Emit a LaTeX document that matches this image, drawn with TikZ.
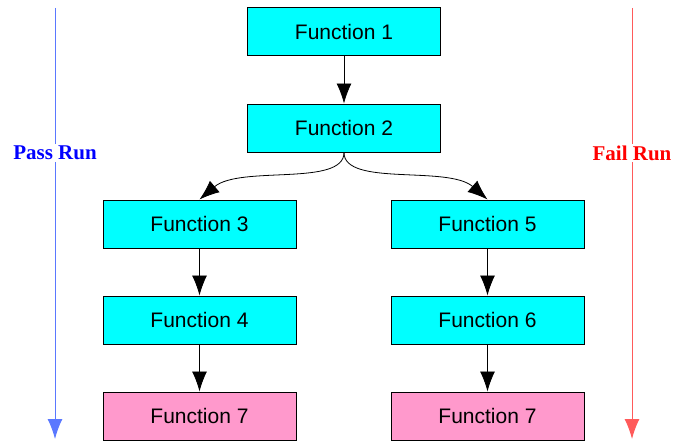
\documentclass[tikz,border=0pt]{standalone}
\usepackage{fontspec}
\setmainfont{Liberation Sans}
\newfontfamily\runfont{Liberation Serif}
\usetikzlibrary{arrows.meta}
\usetikzlibrary{positioning}

\definecolor{funccyan}{RGB}{0,255,255}
\definecolor{funcpink}{RGB}{255,153,204}
\definecolor{passblue}{RGB}{0,0,255}
\definecolor{passline}{RGB}{90,120,255}
\definecolor{failred}{RGB}{255,0,0}
\definecolor{failline}{RGB}{255,90,90}

\begin{document}
\begin{tikzpicture}[x=1pt, y=-1pt]
				\tikzstyle{funcnode}=[draw=black, line width=1pt, minimum height=48pt, minimum width=193pt, fill=funccyan, text=black, font=\fontsize{21}{24}\selectfont, inner sep=0pt]
				\tikzstyle{endnode}=[funcnode, fill=funcpink]
				\tikzstyle{callarrow}=[-{Latex[length=20pt,width=15pt]}, line width=0.8pt, black]
				\tikzstyle{runlabel}=[fill=white, inner sep=2pt, font=\runfont\bfseries\fontsize{21}{24}\selectfont]

				\useasboundingbox (0,0) rectangle (674,444);

				\node (f1) at (344,32) [funcnode] {Function 1};
				\node (f2) at (344,128) [funcnode] {Function 2};
				\node (f3) at (199.5,224) [funcnode] {Function 3};
				\node (f4) at (199.5,320) [funcnode] {Function 4};
				\node (f7a) at (199.5,416) [endnode] {Function 7};
				\node (f5) at (487.5,224) [funcnode] {Function 5};
				\node (f6) at (487.5,320) [funcnode] {Function 6};
				\node (f7b) at (487.5,416) [endnode] {Function 7};

				\draw [callarrow] (f1) -- (f2);
				\draw [callarrow] (f2.south) .. controls (344,187) and (240,165) .. (f3.north);
				\draw [callarrow] (f2.south) .. controls (344,187) and (448,165) .. (f5.north);
				\draw [callarrow] (f3) -- (f4);
				\draw [callarrow] (f4) -- (f7a);
				\draw [callarrow] (f5) -- (f6);
				\draw [callarrow] (f6) -- (f7b);

				% the two runs down the sides
				\coordinate (pass0) at (55,8);
				\coordinate (pass1) at (55,439);
				\coordinate (fail0) at (632,8);
				\coordinate (fail1) at (632,439);
				\draw [-{Latex[length=20pt,width=15pt]}, line width=1pt, passline] (pass0) -- (pass1);
				\draw [-{Latex[length=20pt,width=15pt]}, line width=1pt, failline] (fail0) -- (fail1);
				\node (pass) at (55,153) [runlabel, text=passblue] {Pass Run};
				\node (fail) at (632,153) [runlabel, text=failred] {Fail Run};
				\end{tikzpicture}
\end{document}
